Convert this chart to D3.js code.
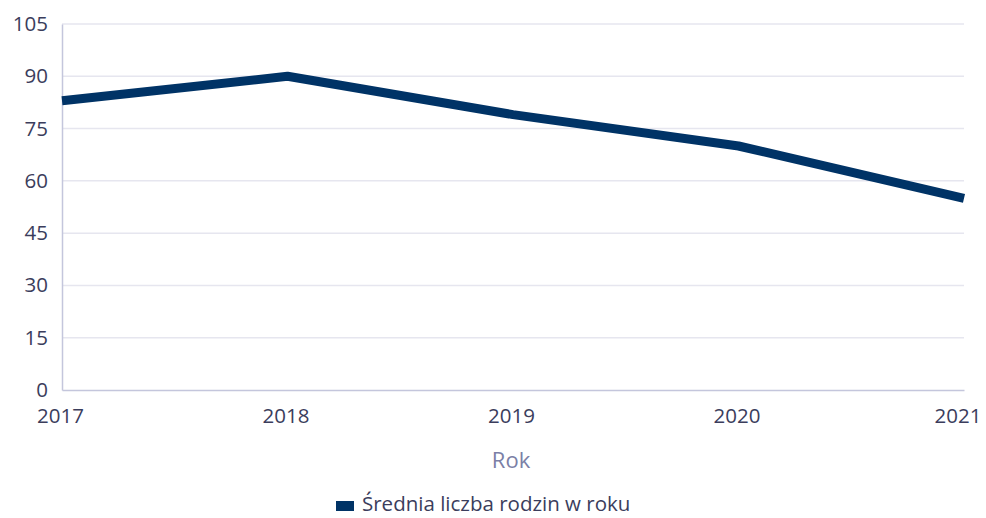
<!DOCTYPE html>
<html><head><meta charset="utf-8">
<script src="https://cdn.jsdelivr.net/npm/d3@7"></script>
<style>body{margin:0;background:#fff;}svg{display:block;font-family:"Open Sans",sans-serif;}</style>
</head><body><svg id="c" width="986" height="518"></svg>
<script>
const years = ["2017","2018","2019","2020","2021"];
const values = [83, 90, 79, 70, 55];
const yTicks = [0,15,30,45,60,75,90,105];
const seriesName = "Średnia liczba rodzin w roku";
const axisTitle = "Rok";

const svg = d3.select("#c");
const m = {l:62, r:964, t:24, b:390};
const x = d3.scalePoint().domain(years).range([m.l, m.r]);
const y = d3.scaleLinear().domain([0,105]).range([m.b, m.t]);
const textCol = "#3b3d5c";
const fs = "20.5px";

// grid
svg.append("g").selectAll("line").data(yTicks.filter(d=>d>0)).join("line")
  .attr("x1", m.l).attr("x2", m.r).attr("y1", d=>y(d)).attr("y2", d=>y(d))
  .attr("stroke", "#e6e6ef").attr("stroke-width", 1.5);

// y axis
const ya = svg.append("g").attr("transform", `translate(${m.l},0)`)
  .call(d3.axisLeft(y).tickValues(yTicks).tickSize(0).tickPadding(14));
ya.select(".domain").attr("stroke", "#c4c6dc").attr("stroke-width", 1.5);
ya.selectAll("text").attr("fill", textCol).style("font-size",fs).style("font-family","'Open Sans',sans-serif");

// x axis
const xa = svg.append("g").attr("transform", `translate(0,${m.b})`)
  .call(d3.axisBottom(x).tickSize(0).tickPadding(18));
xa.select(".domain").attr("stroke", "#c4c6dc").attr("stroke-width", 1.5);
xa.selectAll("text").attr("fill", textCol).style("font-size",fs).style("font-family","'Open Sans',sans-serif")
  .attr("dx", -2);
xa.selectAll(".tick").filter(d => d === years[years.length-1]).select("text")
  .attr("text-anchor","end").attr("dx", 981 - m.r);

// axis title
svg.append("text").attr("x", 511).attr("y", 468).attr("text-anchor","middle")
  .attr("fill", "#7b7fa6").style("font-size","22px").text(axisTitle);

// line
const line = d3.line().x((d,i)=>x(years[i])).y(d=>y(d));
svg.append("path").datum(values).attr("d", line).attr("fill","none")
  .attr("stroke","#003366").attr("stroke-width",9).attr("stroke-linejoin","round");

// legend
const lg = svg.append("g");
lg.append("text").attr("x", 362).attr("y", 511).attr("fill", textCol)
  .style("font-size",fs).text(seriesName);
lg.append("rect").attr("x", 336).attr("y", 501).attr("width", 18).attr("height", 10).attr("fill","#003366");
</script></body></html>
